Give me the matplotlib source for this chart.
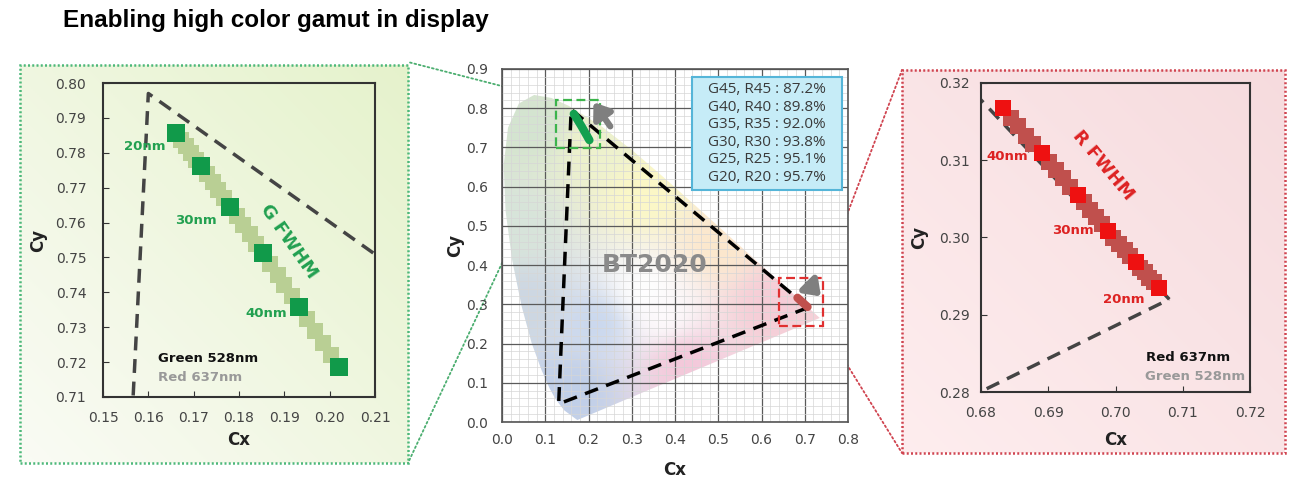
import numpy as np
import matplotlib.pyplot as plt
from matplotlib.patches import Polygon, Rectangle, ConnectionPatch
from matplotlib.ticker import MultipleLocator, FormatStrFormatter

# FWHM steps of the emitters (nm)
fwhm_nm = [20, 21, 22, 23, 24, 25, 26, 27, 28, 29, 30, 31, 32,
           33, 34, 35, 36, 37, 38, 39, 40, 41, 42, 43, 44, 45]

# green 528nm chromaticity vs FWHM
green_cx = [0.1660, 0.1671, 0.1682, 0.1694, 0.1705, 0.1716, 0.1729, 0.1742, 0.1754,
            0.1767, 0.1780, 0.1795, 0.1809, 0.1824, 0.1838, 0.1853, 0.1869, 0.1885,
            0.1900, 0.1916, 0.1932, 0.1950, 0.1968, 0.1985, 0.2003, 0.2021]
green_cy = [0.7856, 0.7837, 0.7818, 0.7799, 0.7780, 0.7761, 0.7738, 0.7715, 0.7692,
            0.7669, 0.7646, 0.7619, 0.7592, 0.7566, 0.7539, 0.7512, 0.7481, 0.7451,
            0.7420, 0.7390, 0.7359, 0.7324, 0.7290, 0.7255, 0.7221, 0.7186]

# red 637nm chromaticity vs FWHM
red_cx = [0.7064, 0.7057, 0.7050, 0.7044, 0.7037, 0.7030, 0.7022, 0.7014, 0.7005,
          0.6997, 0.6989, 0.6980, 0.6971, 0.6962, 0.6953, 0.6944, 0.6933, 0.6922,
          0.6912, 0.6901, 0.6890, 0.6878, 0.6867, 0.6855, 0.6844, 0.6832]
red_cy = [0.2935, 0.2942, 0.2948, 0.2955, 0.2961, 0.2968, 0.2976, 0.2984, 0.2992,
          0.3000, 0.3008, 0.3017, 0.3027, 0.3036, 0.3046, 0.3055, 0.3066, 0.3077,
          0.3087, 0.3098, 0.3109, 0.3121, 0.3132, 0.3144, 0.3155, 0.3167]

# BT2020 triangle as drawn (R, G, B)
bt2020_x = [0.708, 0.160, 0.131]
bt2020_y = [0.292, 0.797, 0.046]

# CIE 1931 spectral locus (approx.)
locus_x = [0.1741, 0.1440, 0.1241, 0.1096, 0.0913, 0.0687, 0.0454, 0.0235, 0.0082,
           0.0039, 0.0139, 0.0389, 0.0743, 0.1142, 0.1547, 0.2296, 0.3016, 0.3731,
           0.4441, 0.5125, 0.5752, 0.6270, 0.6915, 0.7190, 0.7347]
locus_y = [0.0050, 0.0297, 0.0578, 0.0868, 0.1327, 0.2007, 0.2950, 0.4127, 0.5384,
           0.6548, 0.7502, 0.8120, 0.8338, 0.8262, 0.8059, 0.7543, 0.6923, 0.6245,
           0.5547, 0.4866, 0.4242, 0.3725, 0.3083, 0.2809, 0.2653]

# pastel tint anchors for the diagram fill (xy -> rgb)
tint_x = [0.06, 0.03, 0.06, 0.16, 0.22, 0.33, 0.22, 0.50, 0.62, 0.42, 0.33, 0.37]
tint_y = [0.75, 0.50, 0.30, 0.08, 0.25, 0.58, 0.70, 0.45, 0.30, 0.15, 0.33, 0.27]
tint_rgb = [(212, 228, 208), (215, 228, 218), (205, 215, 226), (192, 207, 232),
            (202, 216, 238), (252, 248, 198), (238, 242, 205), (252, 232, 205),
            (246, 205, 215), (244, 200, 218), (255, 255, 255), (253, 250, 252)]

gamut_pairs = ['G45, R45', 'G40, R40', 'G35, R35', 'G30, R30', 'G25, R25', 'G20, R20']
gamut_cover = [87.2, 89.8, 92.0, 93.8, 95.1, 95.7]

W, H = 1304, 487
fig = plt.figure(figsize=(W / 100, H / 100), dpi=100)
fig.patch.set_facecolor('white')


def px(l, t, r, b):
    return [l / W, 1 - b / H, (r - l) / W, (b - t) / H]


def panel_bg(rect, c0, c1, edge):
    bg = fig.add_axes(rect, zorder=0)
    xx, yy = np.meshgrid(np.linspace(0, 1, 200), np.linspace(0, 1, 200))
    g = np.clip((xx + (1 - yy)) / 2, 0, 1)[..., None]
    img = np.array(c0) * (1 - g) + np.array(c1) * g
    bg.imshow(img, extent=[0, 1, 0, 1], aspect='auto', origin='upper')
    bg.axis('off')
    fig.add_artist(Rectangle((rect[0], rect[1]), rect[2], rect[3], fill=False,
                             transform=fig.transFigure, ec=edge, lw=1.8,
                             ls=(0, (0.8, 0.9)), zorder=3))
    return bg


def style_zoom(ax, ypad):
    ax.set_facecolor('none')
    for s in ax.spines.values():
        s.set_color('#333333')
        s.set_linewidth(1.5)
    ax.tick_params(direction='in', length=4, colors='#333333', labelsize=10,
                   labelcolor='#444444')
    ax.tick_params(axis='x', pad=10)
    ax.tick_params(axis='y', pad=ypad)
    ax.xaxis.set_major_formatter(FormatStrFormatter('%.2f'))
    ax.yaxis.set_major_formatter(FormatStrFormatter('%.2f'))


five = [i for i, n in enumerate(fwhm_nm) if n % 5 == 0]
tri_x = bt2020_x + bt2020_x[:1]
tri_y = bt2020_y + bt2020_y[:1]
lab = dict(fontsize=12, fontweight='bold', color='#222222')

# title
fig.text(63 / W, 1 - 20 / H, 'Enabling high color gamut in display', fontsize=17.5,
         fontweight='bold', family='Liberation Sans', va='center', ha='left')

# ---------- left panel (green) ----------
panel_bg(px(20, 65, 408, 463), (0.98, 0.985, 0.96), (0.90, 0.95, 0.80), '#4db87a')
axl = fig.add_axes(px(103, 83, 375, 397), zorder=1)
style_zoom(axl, 12)
axl.plot(tri_x, tri_y, color='#444444', lw=2.5, dashes=(4, 2.5))
axl.plot(green_cx, green_cy, 's', color='#b9cf94', ms=12, mew=0)
axl.plot([green_cx[i] for i in five], [green_cy[i] for i in five], 's',
         color='#119a4a', ms=12.5, mew=0)
axl.set_xlim(0.15, 0.21)
axl.set_ylim(0.71, 0.80)
axl.xaxis.set_major_locator(MultipleLocator(0.01))
axl.yaxis.set_major_locator(MultipleLocator(0.01))
gl = dict(color='#22a050', fontsize=9.5, fontweight='bold', ha='center', va='center')
axl.text(0.1592, 0.7818, '20nm', **gl)
axl.text(0.1705, 0.7607, '30nm', **gl)
axl.text(0.1861, 0.7339, '40nm', **gl)
axl.text(0.1909, 0.7545, 'G FWHM', color='#22a050', fontsize=13, fontweight='bold',
         rotation=-55, ha='center', va='center')
axl.text(0.1621, 0.7210, 'Green 528nm', color='#111111', fontsize=9.5,
         fontweight='bold', va='center')
axl.text(0.1621, 0.7157, 'Red 637nm', color='#999999', fontsize=9.5,
         fontweight='bold', va='center')
axl.set_xlabel('Cx', **lab)
axl.set_ylabel('Cy', **lab)
axl.xaxis.set_label_coords(0.5, -0.108)
axl.yaxis.set_label_coords(-0.206, 0.5)

# ---------- right panel (red) ----------
panel_bg(px(902, 70, 1285, 453), (0.995, 0.93, 0.935), (0.965, 0.86, 0.87), '#d04450')
axr = fig.add_axes(px(981, 83, 1250, 392), zorder=1)
style_zoom(axr, 8)
axr.plot(tri_x, tri_y, color='#444444', lw=2.5, dashes=(4, 2.5))
axr.plot(red_cx, red_cy, 's', color='#c0504d', ms=11.5, mew=0)
axr.plot([red_cx[i] for i in five], [red_cy[i] for i in five], 's',
         color='#ee1111', ms=11, mew=0)
axr.set_xlim(0.68, 0.72)
axr.set_ylim(0.28, 0.32)
axr.xaxis.set_major_locator(MultipleLocator(0.01))
axr.yaxis.set_major_locator(MultipleLocator(0.01))
rl = dict(color='#dd2222', fontsize=9.5, fontweight='bold', ha='center', va='center')
axr.text(0.6839, 0.3105, '40nm', **rl)
axr.text(0.6936, 0.3009, '30nm', **rl)
axr.text(0.7013, 0.2920, '20nm', **rl)
axr.text(0.6982, 0.3094, 'R FWHM', color='#dd2222', fontsize=13, fontweight='bold',
         rotation=-50, ha='center', va='center')
axr.text(0.7170, 0.2845, 'Red 637nm', color='#111111', fontsize=9.5,
         fontweight='bold', ha='right', va='center')
axr.text(0.7193, 0.2820, 'Green 528nm', color='#999999', fontsize=9.5,
         fontweight='bold', ha='right', va='center')
axr.set_xlabel('Cx', **lab)
axr.set_ylabel('Cy', **lab)
axr.xaxis.set_label_coords(0.5, -0.126)
axr.yaxis.set_label_coords(-0.195, 0.5)

# ---------- center: CIE diagram ----------
axc = fig.add_axes(px(502, 69, 848, 422), zorder=1)
axc.set_xlim(0, 0.8)
axc.set_ylim(0, 0.9)
axc.set_axisbelow(True)
axc.xaxis.set_major_locator(MultipleLocator(0.1))
axc.yaxis.set_major_locator(MultipleLocator(0.1))
axc.xaxis.set_minor_locator(MultipleLocator(0.02))
axc.yaxis.set_minor_locator(MultipleLocator(0.02))
axc.grid(which='major', color='#5a5a5a', lw=0.9)
axc.grid(which='minor', color='#d6d6d6', lw=0.5)
axc.tick_params(which='both', length=0, labelsize=10, labelcolor='#444444')
axc.tick_params(axis='x', pad=8)
axc.tick_params(axis='y', pad=10)
axc.xaxis.set_major_formatter(FormatStrFormatter('%.1f'))
axc.yaxis.set_major_formatter(FormatStrFormatter('%.1f'))
for s in axc.spines.values():
    s.set_color('#555555')
    s.set_linewidth(1.2)

# pastel fill of the chromaticity horseshoe (inverse-distance blend of tints)
gx, gy = np.meshgrid(np.linspace(0, 0.8, 240), np.linspace(0, 0.9, 270))
wsum = np.zeros_like(gx)
acc = np.zeros(gx.shape + (3,))
for tx, ty, c in zip(tint_x, tint_y, tint_rgb):
    w = 1.0 / ((gx - tx) ** 2 + (gy - ty) ** 2 + 1e-3) ** 1.5
    wsum += w
    acc += w[..., None] * (np.array(c) / 255.0)
fill = acc / wsum[..., None]
im = axc.imshow(fill, extent=[0, 0.8, 0, 0.9], origin='lower', aspect='auto',
                zorder=0.2, interpolation='bilinear')
horseshoe = Polygon(np.column_stack([locus_x, locus_y]), closed=True,
                    transform=axc.transData, facecolor='none', edgecolor='none')
axc.add_patch(horseshoe)
im.set_clip_path(horseshoe)

axc.text(0.354, 0.40, 'BT2020', fontsize=18, fontweight='bold', color='#8a8a8a',
         ha='center', va='center', zorder=3)
axc.plot(tri_x, tri_y, color='black', lw=2.5, dashes=(4, 2.5), zorder=4)
axc.plot(green_cx, green_cy, color='#12a050', lw=6, solid_capstyle='round', zorder=5)
axc.plot(red_cx, red_cy, color='#c0504d', lw=6, solid_capstyle='round', zorder=5)
axc.add_patch(Rectangle((0.125, 0.698), 0.102, 0.123, fill=False, ec='#3cb44b',
                        lw=1.6, ls=(0, (4, 2)), zorder=6))
axc.add_patch(Rectangle((0.641, 0.245), 0.101, 0.122, fill=False, ec='#e03030',
                        lw=1.6, ls=(0, (4, 2)), zorder=6))
arrow = dict(arrowstyle='-|>,head_length=0.55,head_width=0.4', lw=4.5, color='#7f7f7f',
             mutation_scale=16)
axc.annotate('', xy=(0.208, 0.821), xytext=(0.254, 0.748), arrowprops=arrow, zorder=6)
axc.annotate('', xy=(0.742, 0.315), xytext=(0.704, 0.357), arrowprops=arrow, zorder=6)

# gamut coverage box
box_txt = '\n'.join('%s : %.1f%%' % (p, c) for p, c in zip(gamut_pairs, gamut_cover))
axc.add_patch(Rectangle((0.4393, 0.5915), 0.3468, 0.2881, facecolor='#c6ecf7',
                        edgecolor='#55b5d8', lw=1.5, zorder=7))
axc.text(0.6127, 0.7356, box_txt, fontsize=11, color='#3a3a3a', ha='center',
         va='center', linespacing=1.22, family='Open Sans', zorder=8)
axc.set_xlabel('Cx', **lab)
axc.set_ylabel('Cy', **lab)
axc.xaxis.set_label_coords(0.5, -0.11)
axc.yaxis.set_label_coords(-0.11, 0.5)

# dotted connectors
for xy, fxy, col in [((0.125, 0.821), (408, 62), '#4cae70'),
                     ((0.125, 0.698), (408, 463), '#4cae70'),
                     ((0.742, 0.367), (902, 70), '#d04450'),
                     ((0.742, 0.245), (902, 453), '#d04450')]:
    con = ConnectionPatch(xyA=xy, coordsA=axc.transData, axesA=axc,
                          xyB=(fxy[0] / W, 1 - fxy[1] / H), coordsB='figure fraction',
                          color=col, lw=1.3, ls=(0, (1, 1.5)))
    fig.add_artist(con)

fig.savefig('out.png', dpi=100)
